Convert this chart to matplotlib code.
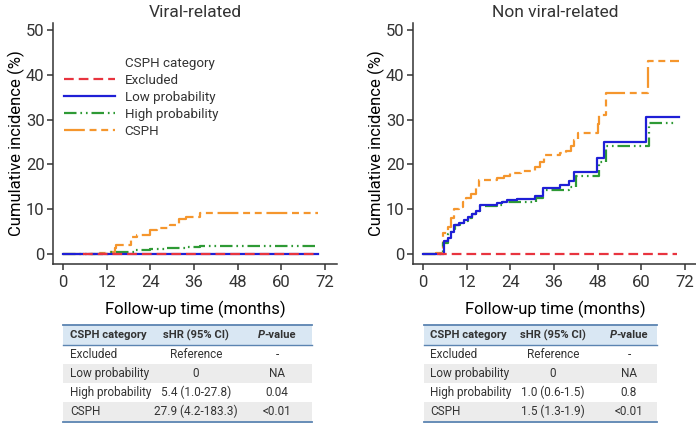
import matplotlib
matplotlib.use("Agg")
import matplotlib.pyplot as plt
from matplotlib.patches import Rectangle

plt.rcParams['font.family'] = ['Roboto', 'DejaVu Sans']
plt.rcParams['text.color'] = '#333333'
plt.rcParams['lines.scale_dashes'] = False

# ---- data (months, cumulative incidence %) ----
# viral-related
excl_v_t = [5.4, 70.0]
excl_v_y = [0, 0]
low_v_t = [0, 70.0]
low_v_y = [0, 0]
high_v_t = [0, 13.0, 19.8, 23.8, 28.0, 34.0, 37.6, 70.0]
high_v_y = [0, 0.4, 0.8, 1.1, 1.3, 1.6, 1.7, 1.7]
cs_v_t = [0, 9.2, 11.9, 14.2, 14.7, 18.8, 20.2, 23.8, 25.7, 29.3, 32.0, 33.9, 37.6, 70.0]
cs_v_y = [0, 0.2, 0.5, 1.3, 2.0, 3.7, 4.3, 5.4, 5.7, 6.4, 7.9, 8.3, 9.2, 9.2]

# non viral-related
excl_n_t = [3.8, 69.9]
excl_n_y = [0, 0]
low_n_t = [0, 5.7, 6.8, 7.7, 8.6, 10.0, 11.3, 12.3, 13.6, 14.5, 15.7, 20.4, 21.8, 23.1,
           25.8, 30.9, 32.9, 37.7, 40.0, 41.6, 47.7, 49.7, 61.3, 70.4]
low_n_y = [0, 3.0, 3.5, 5.0, 6.5, 7.0, 7.5, 8.3, 9.0, 9.5, 11.0, 11.3, 11.7, 12.0,
           12.3, 13.0, 14.7, 15.3, 16.3, 18.3, 21.5, 25.0, 30.5, 30.5]
high_n_t = [0, 5.5, 7.0, 7.8, 8.8, 10.2, 11.4, 12.3, 13.6, 14.6, 15.8, 20.4, 22.0, 25.0,
            31.0, 33.0, 40.0, 42.0, 48.3, 50.3, 62.0, 69.7]
high_n_y = [0, 2.5, 4.5, 5.5, 6.5, 7.0, 7.3, 8.0, 9.0, 9.5, 10.8, 11.0, 11.5, 11.7,
            12.5, 14.2, 15.0, 17.5, 20.5, 24.0, 29.3, 29.3]
cs_n_t = [0, 3.6, 5.4, 6.8, 7.7, 8.6, 10.0, 10.9, 11.8, 13.2, 14.5, 15.4, 20.4, 22.3, 24.0,
          26.8, 30.9, 32.2, 33.2, 37.7, 39.4, 40.7, 41.6, 42.5, 48.1, 48.3, 50.2, 61.7, 70.4]
cs_n_y = [0, 0.3, 4.8, 6.0, 8.0, 10.0, 10.5, 11.5, 12.5, 13.5, 15.0, 16.5, 17.0, 17.5, 18.0,
          18.5, 19.5, 20.5, 22.0, 22.5, 23.0, 24.0, 25.5, 27.0, 29.0, 31.0, 36.0, 43.0, 43.0]

categories = ['Excluded', 'Low probability', 'High probability', 'CSPH']
titles = ['Viral-related', 'Non viral-related']
xticks = [0, 12, 24, 36, 48, 60, 72]
yticks = [0, 10, 20, 30, 40, 50]

table_header = ['CSPH category', 'sHR (95% CI)', 'P-value']
shr_viral = ['Reference', '0', '5.4 (1.0-27.8)', '27.9 (4.2-183.3)']
p_viral = ['-', 'NA', '0.04', '<0.01']
shr_non = ['Reference', '0', '1.0 (0.6-1.5)', '1.5 (1.3-1.9)']
p_non = ['-', 'NA', '0.8', '<0.01']

colors = ['#e8343f', '#1f1fd6', '#2e9a35', '#f5962d']
styles = [(0, (7, 3.6)), '-', (0, (9, 2.8, 1.2, 2.8, 1.2, 2.8)),
          (0, (15, 3.4, 5, 3.4, 5, 3.4))]

W, H = 696, 425
fig = plt.figure(figsize=(W / 100, H / 100), dpi=100)

panels = [
    [(excl_v_t, excl_v_y), (low_v_t, low_v_y), (high_v_t, high_v_y), (cs_v_t, cs_v_y)],
    [(excl_n_t, excl_n_y), (low_n_t, low_n_y), (high_n_t, high_n_y), (cs_n_t, cs_n_y)],
]
lefts = [53, 413]
axes = []
for k in range(2):
    ax = fig.add_axes([lefts[k] / W, 1 - 264 / H, 284 / W, 241 / H])
    axes.append(ax)
    for i in [3, 2, 1, 0]:
        t, y = panels[k][i]
        ax.step(t, y, where='post', color=colors[i], linestyle=styles[i], lw=1.6,
                label=categories[i])
    ax.set_xlim(-2.75, 75.3)
    ax.set_ylim(-2.23, 51.56)
    ax.set_xticks(xticks)
    ax.set_yticks(yticks)
    for s in ['top', 'right']:
        ax.spines[s].set_visible(False)
    for s in ['left', 'bottom']:
        ax.spines[s].set_color('#333333')
        ax.spines[s].set_linewidth(1.1)
    ax.tick_params(direction='out', length=4, width=1.1, color='#333333',
                   labelsize=12, labelcolor='#333333')
    ax.tick_params(axis='x', pad=4)
    ax.tick_params(axis='y', pad=2)
    ax.set_xlabel('Follow-up time (months)', fontsize=12, labelpad=8)
    ax.set_ylabel('Cumulative incidence (%)', fontsize=12, labelpad=1)
    ax.set_title(titles[k], fontsize=12.5, pad=4)

# legend in left panel
h, l = axes[0].get_legend_handles_labels()
order = [3, 2, 1, 0]
leg = axes[0].legend([h[i] for i in order], [l[i] for i in order],
                     loc='upper left', bbox_to_anchor=(64 / W, 1 - 74 / H),
                     bbox_transform=fig.transFigure, frameon=False, fontsize=9.6,
                     handlelength=3.8, handletextpad=0.75, labelspacing=0.3,
                     borderpad=0, borderaxespad=0)
fig.text(125 / W, 1 - 63 / H, 'CSPH category', fontsize=9.6, ha='left', va='center')

# tables
tab = fig.add_axes([0, 0, 1, 1])
tab.set_xlim(0, W)
tab.set_ylim(H, 0)
tab.axis('off')
line_c = '#5b84b1'
rows_y = [345, 364, 383, 402, 421]
renderer = fig.canvas.get_renderer()


def draw_table(x0, x1, cx, shr, pv):
    tab.add_patch(Rectangle((x0, 325), x1 - x0, 20, color='#d9e7f3', lw=0))
    for r in [1, 3]:
        tab.add_patch(Rectangle((x0, rows_y[r]), x1 - x0, 19, color='#ececec', lw=0))
    tab.plot([x0, x1], [325, 325], color=line_c, lw=1.3)
    tab.plot([x0, x1], [345, 345], color=line_c, lw=1.0)
    tab.plot([x0, x1], [421.5, 421.5], color=line_c, lw=1.3)
    fh = 8.1
    fs = 8.5
    tab.text(cx[0], 335.5, table_header[0], fontsize=fh, weight='bold', ha='left', va='center')
    tab.text(cx[1], 335.5, table_header[1], fontsize=fh, weight='bold', ha='center', va='center')
    # italic P + bold "-value", centered together
    tp = tab.text(0, 335.5, 'P', fontsize=fh, weight='bold', style='italic', va='center')
    tv = tab.text(0, 335.5, '-value', fontsize=fh, weight='bold', va='center')
    wp = tp.get_window_extent(renderer).width
    wv = tv.get_window_extent(renderer).width
    start = cx[2] - (wp + wv) / 2
    tp.set_x(start)
    tv.set_x(start + wp)
    for r in range(4):
        yc = rows_y[r] + 9.5
        tab.text(cx[0], yc, categories[r], fontsize=fs, ha='left', va='center')
        tab.text(cx[1], yc, shr[r], fontsize=fs, ha='center', va='center')
        tab.text(cx[2], yc, pv[r], fontsize=fs, ha='center', va='center')


draw_table(63, 312, [70, 196, 277], shr_viral, p_viral)
draw_table(424, 657, [430, 553, 629], shr_non, p_non)

fig.savefig('out.png', dpi=100)
